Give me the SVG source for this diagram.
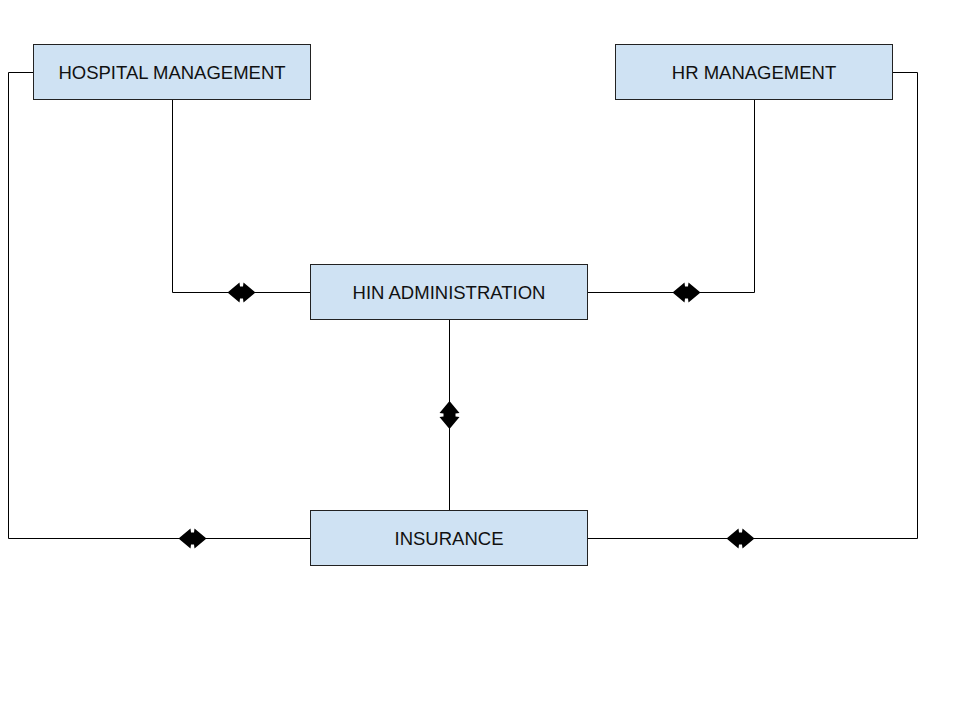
<svg xmlns="http://www.w3.org/2000/svg" width="960" height="720" viewBox="0 0 960 720">
<style>
.box{fill:#cfe2f3;stroke:#222;stroke-width:1}
.lbl{font-family:"Liberation Sans",Arial,sans-serif;font-size:18.5px;fill:#111;text-anchor:middle}
.ln{fill:none;stroke:#000;stroke-width:1}
.ah{fill:#000}
</style>
<defs>
<path id="dbl" d="M-14,0 L-2,-10 L-1.5,-6 L1.5,-6 L2,-10 L14,0 L2,10 L1.5,6 L-1.5,6 L-2,10 Z"/>
</defs>
<rect width="960" height="720" fill="#fff"/>
<g id="connectors">
<path class="ln" d="M172.5,99 V292.5 H310"/>
<path class="ln" d="M754.5,99 V292.5 H587"/>
<path class="ln" d="M449.5,319 V510"/>
<path class="ln" d="M33,72.5 H8.5 V538.5 H310"/>
<path class="ln" d="M892,72.5 H917.5 V538.5 H587"/>
<use href="#dbl" class="ah" x="241.5" y="292.5"/>
<use href="#dbl" class="ah" x="686.5" y="292.5"/>
<use href="#dbl" class="ah" transform="translate(449.5,415) rotate(90)"/>
<use href="#dbl" class="ah" x="192.5" y="538.5"/>
<use href="#dbl" class="ah" x="740.5" y="538.5"/>
</g>
<g id="hospital">
<rect class="box" x="33.5" y="44.5" width="277" height="55"/>
<text class="lbl" x="172" y="79">HOSPITAL MANAGEMENT</text>
</g>
<g id="hr">
<rect class="box" x="615.5" y="44.5" width="277" height="55"/>
<text class="lbl" x="754" y="79">HR MANAGEMENT</text>
</g>
<g id="hin">
<rect class="box" x="310.5" y="264.5" width="277" height="55"/>
<text class="lbl" x="449" y="299">HIN ADMINISTRATION</text>
</g>
<g id="insurance">
<rect class="box" x="310.5" y="510.5" width="277" height="55"/>
<text class="lbl" x="449" y="545">INSURANCE</text>
</g>
</svg>
